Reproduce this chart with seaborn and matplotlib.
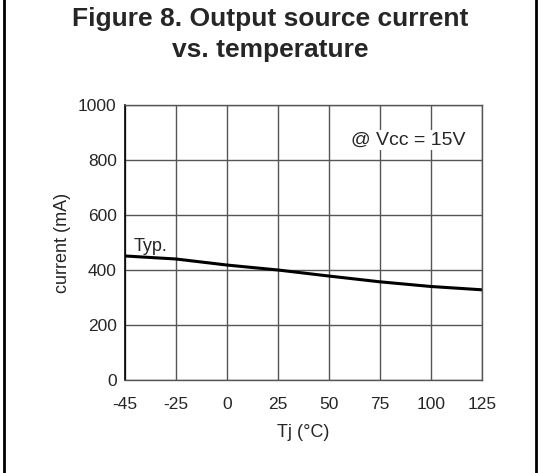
import pandas as pd
import matplotlib.pyplot as plt
import seaborn as sns
from matplotlib.patches import Rectangle

# dados
temperaturas = ['-45', '-25', '0', '25', '50', '75', '100', '125']
corrente = [451, 440, 418, 400, 378, 357, 340, 328]
y_ticks = [0, 200, 400, 600, 800, 1000]

dados = pd.DataFrame({'Tj': temperaturas, 'corrente': corrente})
dados['pos'] = range(len(temperaturas))

sns.set_style('white')
plt.rcParams['font.family'] = ['Liberation Sans', 'DejaVu Sans']

fig = plt.figure(figsize=(5.4, 4.73), dpi=100)
ax = fig.add_axes([125/540, 1 - 380/473, (482-125)/540, (380-105)/473])

sns.lineplot(data=dados, x='pos', y='corrente', color='black', linewidth=2.2, ax=ax)

ax.set_xlim(0, len(temperaturas) - 1)
ax.set_ylim(0, 1000)
ax.set_xticks(dados['pos'])
ax.set_xticklabels(temperaturas)
ax.set_yticks(y_ticks)
ax.grid(True, color='#555555', linewidth=1)
ax.tick_params(axis='x', length=0, pad=12, labelsize=12.5)
ax.tick_params(axis='y', length=3, width=1, color='black', pad=3, labelsize=12.5)
for s in ['top', 'right', 'bottom']:
    ax.spines[s].set_color('#555555')
    ax.spines[s].set_linewidth(1)
ax.spines['left'].set_color('black')
ax.spines['left'].set_linewidth(1.2)

ax.set_xlabel('Tj (°C)', fontsize=13, labelpad=9)
ax.set_ylabel('current (mA)', fontsize=13, labelpad=5)

ax.text(0.17, 456, 'Typ.', fontsize=13, va='bottom', ha='left')
ax.text(5.55, 873, '@ Vcc = 15V', fontsize=14, ha='center', va='center',
        bbox=dict(facecolor='white', edgecolor='none', pad=1))

fig.text(0.5, 1 - 19/473, 'Figure 8. Output source current', fontsize=19,
         fontweight='bold', ha='center', va='center')
fig.text(0.5, 1 - 50/473, 'vs. temperature', fontsize=19,
         fontweight='bold', ha='center', va='center')

# moldura da figura
fig.patches.append(Rectangle((4/540, -0.01), 532/540, 1.02, transform=fig.transFigure,
                             fill=False, edgecolor='black', linewidth=2))

fig.savefig('out.png', dpi=100)
